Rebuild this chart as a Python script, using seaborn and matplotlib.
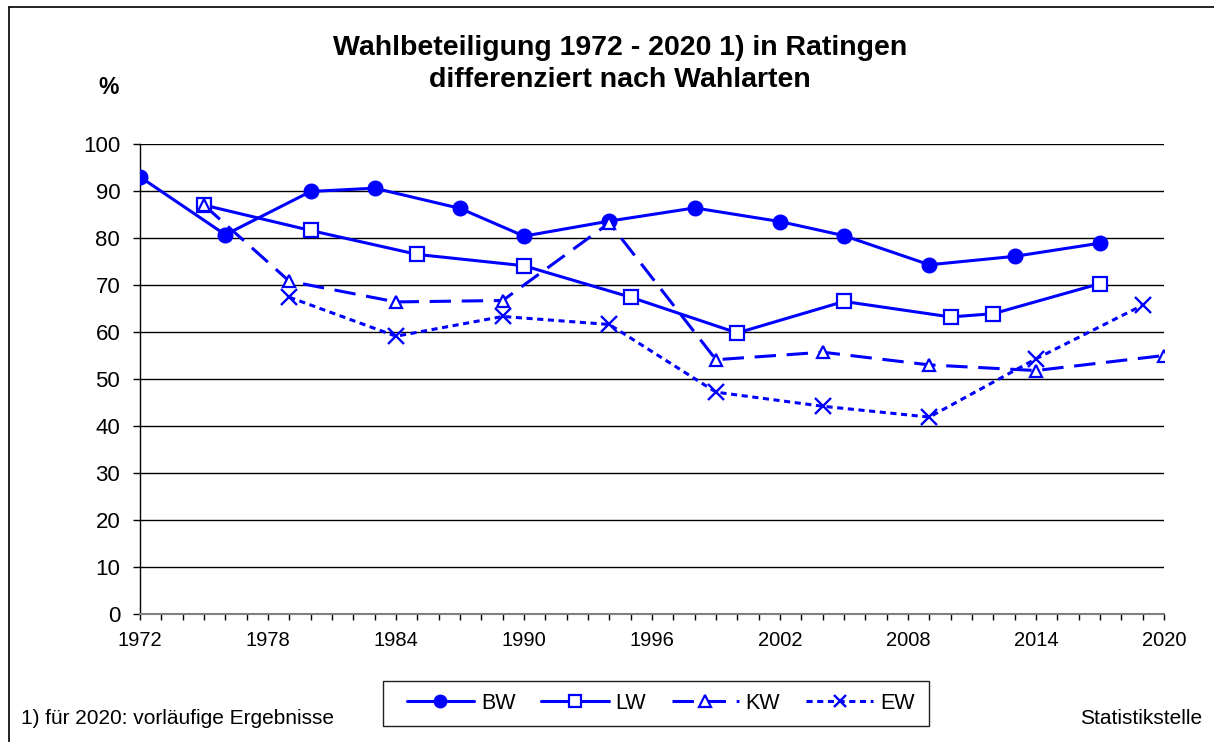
import matplotlib
matplotlib.use("Agg")
import matplotlib.pyplot as plt
from matplotlib.lines import Line2D
from matplotlib.patches import Rectangle
from matplotlib.ticker import MultipleLocator
import seaborn as sns
import pandas as pd

# ---- data ----
bw_years = [1972, 1976, 1980, 1983, 1987, 1990, 1994, 1998, 2002, 2005, 2009, 2013, 2017]
bw_values = [93.0, 80.7, 89.9, 90.6, 86.3, 80.4, 83.6, 86.4, 83.5, 80.5, 74.3, 76.1, 78.9]

lw_years = [1975, 1980, 1985, 1990, 1995, 2000, 2005, 2010, 2012, 2017]
lw_values = [87.0, 81.6, 76.5, 74.1, 67.4, 59.8, 66.5, 63.2, 63.9, 70.3]

kw_years = [1975, 1979, 1984, 1989, 1994, 1999, 2004, 2009, 2014, 2020]
kw_values = [87.0, 70.8, 66.4, 66.7, 83.2, 54.1, 55.7, 53.0, 51.8, 55.0]

ew_years = [1979, 1984, 1989, 1994, 1999, 2004, 2009, 2014, 2019]
ew_values = [67.4, 59.1, 63.3, 61.6, 47.2, 44.2, 41.9, 54.3, 65.7]

series_names = ["BW", "LW", "KW", "EW"]
x_tick_labels = [1972, 1978, 1984, 1990, 1996, 2002, 2008, 2014, 2020]
y_tick_labels = [0, 10, 20, 30, 40, 50, 60, 70, 80, 90, 100]

title_text = "Wahlbeteiligung 1972 - 2020 1) in Ratingen\ndifferenziert nach Wahlarten"
footnote_text = "1) für 2020: vorläufige Ergebnisse"
source_text = "Statistikstelle"

# ---- styling ----
sns.set_theme(style="white")
plt.rcParams["font.family"] = ["Liberation Sans", "DejaVu Sans"]

BLUE = "#0000FF"
W, H = 1214, 742
fig = plt.figure(figsize=(W / 100, H / 100), dpi=100)
ax = fig.add_axes([140 / W, 1 - 614 / H, (1164 - 140) / W, (614 - 144) / H])

frames = {
    "BW": pd.DataFrame({"Jahr": bw_years, "Wert": bw_values}),
    "LW": pd.DataFrame({"Jahr": lw_years, "Wert": lw_values}),
    "KW": pd.DataFrame({"Jahr": kw_years, "Wert": kw_values}),
    "EW": pd.DataFrame({"Jahr": ew_years, "Wert": ew_values}),
}
styles = {
    "BW": dict(marker="o", ms=10.5, leg_ms=9, mfc=BLUE, mew=1.0, ls="-"),
    "LW": dict(marker="s", ms=10, leg_ms=8, mfc="white", mew=1.6, ls="-"),
    "KW": dict(marker="^", ms=9.3, leg_ms=8, mfc="white", mew=1.6, ls=(0, (7, 3.5))),
    "EW": dict(marker="x", ms=12, leg_ms=8, mfc=BLUE, mew=1.7, ls=(0, (2.0, 1.5))),
}
LWIDTH = 2.2

handles = []
for name in series_names:
    df = frames[name]
    st = styles[name]
    sns.lineplot(data=df, x="Jahr", y="Wert", ax=ax, color=BLUE, linewidth=LWIDTH,
                 marker=st["marker"], markersize=st["ms"],
                 markerfacecolor=st["mfc"], markeredgecolor=BLUE,
                 markeredgewidth=st["mew"], linestyle=st["ls"], legend=False, zorder=3)
    handles.append(Line2D([], [], color=BLUE, linewidth=LWIDTH, marker=st["marker"],
                          markersize=st["leg_ms"], markerfacecolor=st["mfc"],
                          markeredgecolor=BLUE, markeredgewidth=st["mew"],
                          linestyle=st["ls"], label=name))

ax.set_xlim(1972, 2020)
ax.set_ylim(0, 100)
ax.set_xticks(x_tick_labels)
ax.set_xticklabels([str(v) for v in x_tick_labels])
ax.xaxis.set_minor_locator(MultipleLocator(1))
ax.set_yticks(y_tick_labels)
ax.set_yticklabels([str(v) for v in y_tick_labels])
ax.set_xlabel("")
ax.set_ylabel("")
ax.grid(False)
for v in y_tick_labels[1:]:
    ax.axhline(v, color="black", linewidth=1.0, zorder=1)

for s in ["top", "right"]:
    ax.spines[s].set_visible(False)
ax.spines["left"].set_color("black")
ax.spines["left"].set_linewidth(1.0)
ax.spines["bottom"].set_color("#808080")
ax.spines["bottom"].set_linewidth(1.5)

ax.tick_params(axis="x", which="major", direction="out", length=4.6, width=1, color="black",
               labelsize=14.5, pad=7.5, bottom=True)
ax.tick_params(axis="x", which="minor", direction="out", length=4.6, width=1, color="black",
               bottom=True)
ax.tick_params(axis="y", which="major", direction="out", length=4.8, width=1, color="black",
               labelsize=16, pad=9.5, left=True)
for lab in ax.get_xticklabels() + ax.get_yticklabels():
    lab.set_color("black")

fig.text(620 / W, 1 - 64 / H, title_text, ha="center", va="center", fontsize=20.5,
         fontweight="bold", linespacing=1.32, color="black")
fig.text(109 / W, 1 - 87 / H, "%", ha="center", va="center", fontsize=16.5,
         fontweight="bold", color="black")
fig.text(21 / W, 1 - 718 / H, footnote_text, ha="left", va="center", fontsize=15, color="black")
fig.text(1202 / W, 1 - 718 / H, source_text, ha="right", va="center", fontsize=15, color="black")

leg = fig.legend(handles=handles, loc="center", bbox_to_anchor=(660.7 / W, 1 - 703.5 / H),
                 bbox_transform=fig.transFigure, ncol=4, frameon=False, fontsize=15.5,
                 handlelength=3.13, handletextpad=0.31, columnspacing=1.2, borderpad=0.4,
                 numpoints=1)
for t in leg.get_texts():
    t.set_color("black")
fig.add_artist(Rectangle((382.7 / W, 1 - 726 / H), (929.3 - 382.7) / W, (726 - 680.7) / H,
                         transform=fig.transFigure, fill=False, edgecolor="#202020",
                         linewidth=1.0))

# outer frame (top and left edges visible)
fig.add_artist(Line2D([9 / W, 9 / W], [1 - 7 / H, 0], transform=fig.transFigure,
                      color="black", linewidth=1.2))
fig.add_artist(Line2D([9 / W, 1], [1 - 7 / H, 1 - 7 / H], transform=fig.transFigure,
                      color="black", linewidth=1.2))

fig.savefig("out.png", dpi=100)
